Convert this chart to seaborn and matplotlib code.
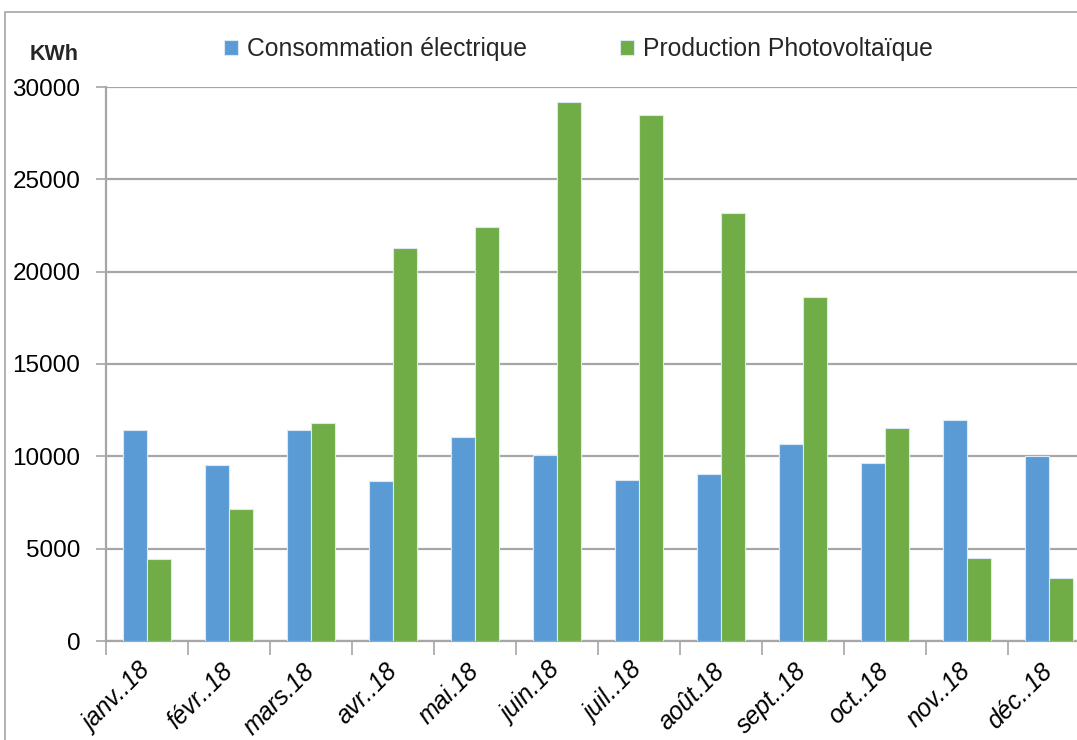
import matplotlib
matplotlib.use("Agg")
import matplotlib.pyplot as plt
import seaborn as sns
import pandas as pd
from matplotlib.patches import Rectangle
from matplotlib.ticker import FixedLocator

# Monthly figures for 2018 (kWh)
months = ["janv..18", "févr..18", "mars.18", "avr..18", "mai.18", "juin.18",
          "juil..18", "août.18", "sept..18", "oct..18", "nov..18", "déc..18"]
consommation = [11430, 9530, 11430, 8660, 11050, 10070,
                8720, 9020, 10650, 9620, 11950, 10030]
production = [4420, 7130, 11790, 21280, 22410, 29170,
              28480, 23190, 18620, 11520, 4510, 3390]
series_names = ["Consommation électrique", "Production Photovoltaïque"]
series_colors = ["#5B9BD5", "#70AD47"]
y_ticks = [0, 5000, 10000, 15000, 20000, 25000, 30000]

df = pd.DataFrame({
    "mois": months * 2,
    "kwh": consommation + production,
    "serie": [series_names[0]] * len(months) + [series_names[1]] * len(months),
})

sns.set_theme(style="white")
plt.rcParams["font.family"] = ["Liberation Sans", "DejaVu Sans"]

fig = plt.figure(figsize=(10.77, 7.40), dpi=100)
ax = fig.add_axes([106 / 1077, 1 - 641 / 740, 984 / 1077, (641 - 87) / 740])

sns.barplot(data=df, x="mois", y="kwh", hue="serie", order=months,
            hue_order=series_names, palette=series_colors, width=0.585,
            gap=0, saturation=1, edgecolor="#dce9f5", linewidth=0.8,
            errorbar=None, ax=ax, zorder=3)

grid_color = "#a6a6a6"
ax.set_ylim(0, 30000)
ax.set_xlim(-0.5, len(months) - 0.5)
ax.set_yticks(y_ticks)
ax.set_yticklabels([str(v) for v in y_ticks], fontsize=17.5, color="black")
ax.yaxis.grid(True, color=grid_color, linewidth=1.6, zorder=0)
ax.xaxis.grid(False)
ax.set_axisbelow(True)
ax.tick_params(axis="y", length=7, width=1.2, color=grid_color, pad=11.5, left=True)

# Month labels sit under the bars; tick marks sit between months
ax.set_xticks(range(len(months)))
ax.set_xticklabels(months, rotation=45, ha="right", va="center",
                   rotation_mode="anchor", fontsize=17.8, fontstyle="italic",
                   color="black")
ax.tick_params(axis="x", which="major", length=0, pad=19)
ax.xaxis.set_minor_locator(FixedLocator([i - 0.5 for i in range(len(months) + 1)]))
ax.tick_params(axis="x", which="minor", length=10, width=1.2, color=grid_color, bottom=True)

ax.set_xlabel("")
ax.set_ylabel("")
for side in ["top", "right"]:
    ax.spines[side].set_visible(False)
for side in ["left", "bottom"]:
    ax.spines[side].set_color(grid_color)
    ax.spines[side].set_linewidth(1.6)

# Legend across the top
ax.legend(loc="center left", bbox_to_anchor=(224 / 1077, 1 - 49 / 740),
          bbox_transform=fig.transFigure, ncol=2, frameon=False,
          fontsize=17.8, handlelength=0.57, handleheight=0.57,
          handletextpad=0.37, columnspacing=3.75, borderaxespad=0, borderpad=0)

fig.text(54 / 1077, 1 - 55 / 740, "KWh", fontsize=15.5, fontweight="bold",
         ha="center", va="center")

# Outer chart frame
fig.patches.append(Rectangle((5 / 1077, -0.1), 1.2, 1 - 12 / 740 + 0.1,
                             transform=fig.transFigure, fill=False,
                             edgecolor="#a6a6a6", linewidth=1.2))

fig.savefig("out.png", dpi=100)
